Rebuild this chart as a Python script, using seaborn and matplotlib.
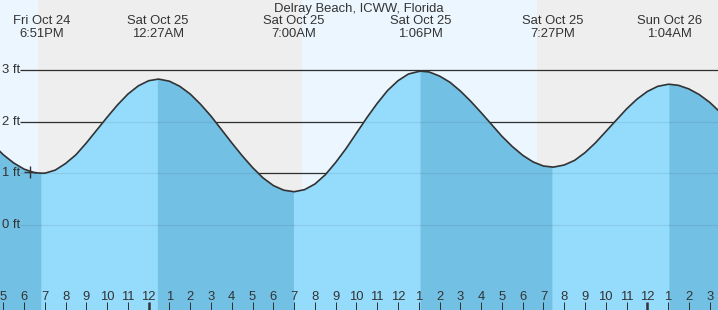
import numpy as np
import pandas as pd
import matplotlib
matplotlib.use("Agg")
import matplotlib.pyplot as plt
import seaborn as sns
from matplotlib.transforms import blended_transform_factory

# ---------------- data (hours relative to Sat Oct 25 00:00) ----------------
title = "Delray Beach, ICWW, Florida"

# half-hourly tide height readings (ft), from -8 h to +28 h
reading_hours = np.arange(-8.0, 28.01, 0.5)
reading_heights = [
    1.77, 1.56, 1.36, 1.20, 1.08, 1.01, 1.00, 1.06,   # -8.0 .. -4.5
    1.19, 1.36, 1.59, 1.84, 2.09, 2.33, 2.54, 2.70,   # -4.0 .. -0.5
    2.80, 2.83, 2.79, 2.69, 2.54, 2.34, 2.11, 1.85,   #  0.0 ..  3.5
    1.59, 1.34, 1.11, 0.91, 0.76, 0.67, 0.64, 0.68,   #  4.0 ..  7.5
    0.79, 0.97, 1.21, 1.48, 1.78, 2.08, 2.36, 2.61,   #  8.0 .. 11.5
    2.80, 2.93, 2.98, 2.97, 2.89, 2.77, 2.60, 2.40,   # 12.0 .. 15.5
    2.18, 1.95, 1.72, 1.52, 1.35, 1.22, 1.14, 1.12,   # 16.0 .. 19.5
    1.16, 1.25, 1.40, 1.59, 1.81, 2.03, 2.25, 2.44,   # 20.0 .. 23.5
    2.59, 2.69, 2.73, 2.71, 2.64, 2.53, 2.38, 2.19,   # 24.0 .. 27.5
    1.99,                                             # 28.0
]

# high / low tide events
event_hours = [-5.15, 0.45, 7.0, 13.1, 19.45, 25.07]
event_heights = [1.00, 2.83, 0.64, 2.985, 1.12, 2.73]
event_days = ["Fri Oct 24", "Sat Oct 25", "Sat Oct 25", "Sat Oct 25", "Sat Oct 25", "Sun Oct 26"]
event_times = ["6:51PM", "12:27AM", "7:00AM", "1:06PM", "7:27PM", "1:04AM"]

# night periods (sunset -> sunrise)
night_start = [-5.33, 18.69]
night_end = [7.36, 28.0]

# x ticks (hour of day)
tick_hours = list(range(-7, 28))
tick_labels = ["5", "6", "7", "8", "9", "10", "11", "12",
               "1", "2", "3", "4", "5", "6", "7", "8", "9", "10", "11", "12",
               "1", "2", "3", "4", "5", "6", "7", "8", "9", "10", "11", "12",
               "1", "2", "3"]
midnight_hours = [0, 24]

ft_levels = [0, 1, 2, 3]
ft_labels = ["0 ft", "1 ft", "2 ft", "3 ft"]

now_hour = [-5.69]
now_height = [1.02]

# ---------------- style ----------------
DAY = "#ecf6fe"
NIGHT = "#eeeeee"
RISE = "#95dbfc"
FALL = "#72c0e4"
INK = "#333333"

sns.set_style("white")
plt.rcParams["font.family"] = ["Liberation Sans", "DejaVu Sans"]
FS = 9.36

fig = plt.figure(figsize=(7.18, 3.10), dpi=100)
ax = fig.add_axes([0, 0, 1, 1])
ax.set_facecolor(DAY)
for s in ax.spines.values():
    s.set_visible(False)

ax.set_xlim(-7.158, 27.403)
ax.set_ylim(-1.661, 4.370)

for a, b in zip(night_start, night_end):
    ax.axvspan(a, b, color=NIGHT, lw=0, zorder=0)

df = pd.concat([
    pd.DataFrame({"t": event_hours, "h": event_heights}),
    pd.DataFrame({"t": reading_hours, "h": reading_heights}),
]).drop_duplicates("t", keep="first").sort_values("t").reset_index(drop=True)

ytr = blended_transform_factory(ax.transAxes, ax.transData)
xtr = blended_transform_factory(ax.transData, ax.transAxes)

# grid lines (dark, under the water fill)
line_start = 20 / 718
ax.hlines(ft_levels, line_start, 1, transform=ytr, color=INK, lw=0.9, zorder=1)

# water fill, split into rising / falling segments at tide events
bounds = [df.t.min()] + event_hours + [df.t.max()]
for a, b in zip(bounds[:-1], bounds[1:]):
    seg = df[(df.t >= a) & (df.t <= b)]
    rising = seg.h.iloc[-1] > seg.h.iloc[0]
    c = RISE if rising else FALL
    ax.fill_between(seg.t, -5, seg.h, facecolor=c, edgecolor=c, lw=0.3, zorder=2)

# faint grid lines over the water
ax.hlines(ft_levels, line_start, 1, transform=ytr, color="black", alpha=0.07, lw=0.9, zorder=3)

sns.lineplot(data=df, x="t", y="h", ax=ax, color=INK, lw=1.2, zorder=4,
             estimator=None, sort=True)
ax.plot(now_hour, now_height, marker="+", ms=9, mew=1.0, color=INK, zorder=5, ls="none")

ax.set_xlabel("")
ax.set_ylabel("")
ax.set_yticks([])
ax.set_xticks(tick_hours)
ax.set_xticklabels(tick_labels)
ax.tick_params(axis="x", bottom=True, direction="in", length=5.76, width=0.72, color=INK,
               pad=-13.9, labelsize=FS, labelcolor=INK)
ax.xaxis.set_zorder(6)
for tk, hr in zip(ax.xaxis.get_major_ticks(), tick_hours):
    if hr in midnight_hours:
        tk.tick1line.set_markeredgewidth(1.8)

for lv, lb in zip(ft_levels, ft_labels):
    ax.text(2.5 / 718, lv, lb, transform=ytr, ha="left", va="center", fontsize=FS,
            color=INK, zorder=6)

ax.text(0.5, 1 - 12.4 / 310, title, transform=ax.transAxes, ha="center", va="baseline",
        fontsize=FS, color=INK)
for t, d, tm in zip(event_hours, event_days, event_times):
    ax.text(t, 1 - 24.3 / 310, d, transform=xtr, ha="center", va="baseline", fontsize=FS, color=INK)
    ax.text(t, 1 - 37.3 / 310, tm, transform=xtr, ha="center", va="baseline", fontsize=FS, color=INK)

fig.savefig("out.png", dpi=100)
